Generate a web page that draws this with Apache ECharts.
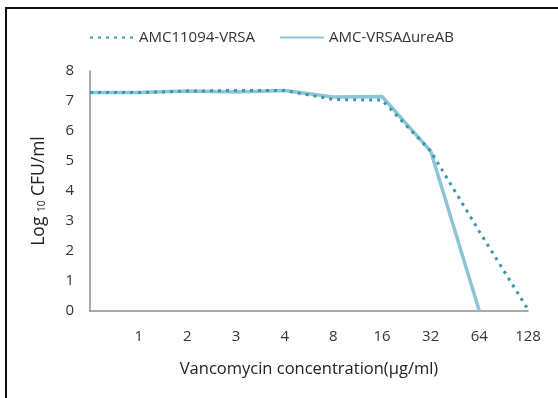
<!DOCTYPE html>
<html>
<head>
<meta charset="utf-8">
<script src="https://cdn.jsdelivr.net/npm/echarts@6/dist/echarts.min.js"></script>
<style>
    html, body { margin: 0; padding: 0; background: #fff; }
    #chart { width: 558px; height: 398px; }
</style>
</head>
<body>
<div id="chart"></div>
<script>
var categories = ['', '1', '2', '3', '4', '8', '16', '32', '64', '128'];
var seriesNames = ['AMC11094-VRSA', 'AMC-VRSAΔureAB'];
var wildType = [7.28, 7.28, 7.33, 7.35, 7.35, 7.05, 7.03, 5.33, 2.65, 0.05];
var mutant = [7.28, 7.28, 7.33, 7.3, 7.35, 7.13, 7.15, 5.33, 0, null];
var yTicks = [0, 8, 1];

var font = 'Open Sans';

var chart = echarts.init(document.getElementById('chart'));

var option = {
    animation: false,
    textStyle: { fontFamily: font },
    graphic: [{
        type: 'polyline',
        shape: { points: [[6, 398], [6, 8], [558, 8]] },
        style: { stroke: '#111', lineWidth: 2, fill: null }
    }],
    legend: {
        top: 25,
        left: 84,
        itemGap: 24,
        itemWidth: 44,
        itemHeight: 10,
        itemStyle: { opacity: 0 },
        data: seriesNames,
        textStyle: { fontFamily: font, fontSize: 15, color: '#333' }
    },
    grid: {
        left: 90,
        right: 30,
        top: 71,
        bottom: 87
    },
    xAxis: {
        type: 'category',
        boundaryGap: false,
        data: categories,
        name: 'Vancomycin concentration(μg/ml)',
        nameLocation: 'middle',
        nameGap: 50,
        nameTextStyle: { fontFamily: font, fontSize: 16.5, color: '#222' },
        axisLine: { lineStyle: { color: '#8c8c8c', width: 1.5 } },
        axisTick: { show: false },
        axisLabel: { fontFamily: font, fontSize: 15, color: '#333', margin: 18 },
        splitLine: { show: false }
    },
    yAxis: {
        type: 'value',
        min: yTicks[0],
        max: yTicks[1],
        interval: yTicks[2],
        name: '{a|Log }{b|10}{a| CFU/ml}',
        nameLocation: 'middle',
        nameGap: 42,
        nameTextStyle: {
            rich: {
                a: { fontFamily: font, fontSize: 17.5, color: '#222' },
                b: { fontFamily: font, fontSize: 10, color: '#222', padding: [7, 0, 0, 0] }
            }
        },
        axisLine: { show: true, lineStyle: { color: '#8c8c8c', width: 1.5 } },
        axisTick: { show: false },
        axisLabel: { fontFamily: font, fontSize: 15, color: '#333', margin: 16 },
        splitLine: { show: false }
    },
    series: [{
        name: seriesNames[0],
        type: 'line',
        data: wildType,
        symbol: 'none',
        itemStyle: { color: '#3a98ad' },
        lineStyle: { color: '#3a98ad', width: 3, type: [3, 5] },
        z: 3
    }, {
        name: seriesNames[1],
        type: 'line',
        data: mutant,
        symbol: 'none',
        itemStyle: { color: '#8ec4d7' },
        lineStyle: { color: '#8ec4d7', width: 3.5 },
        z: 2
    }]
};

chart.setOption(option);
</script>
</body>
</html>
